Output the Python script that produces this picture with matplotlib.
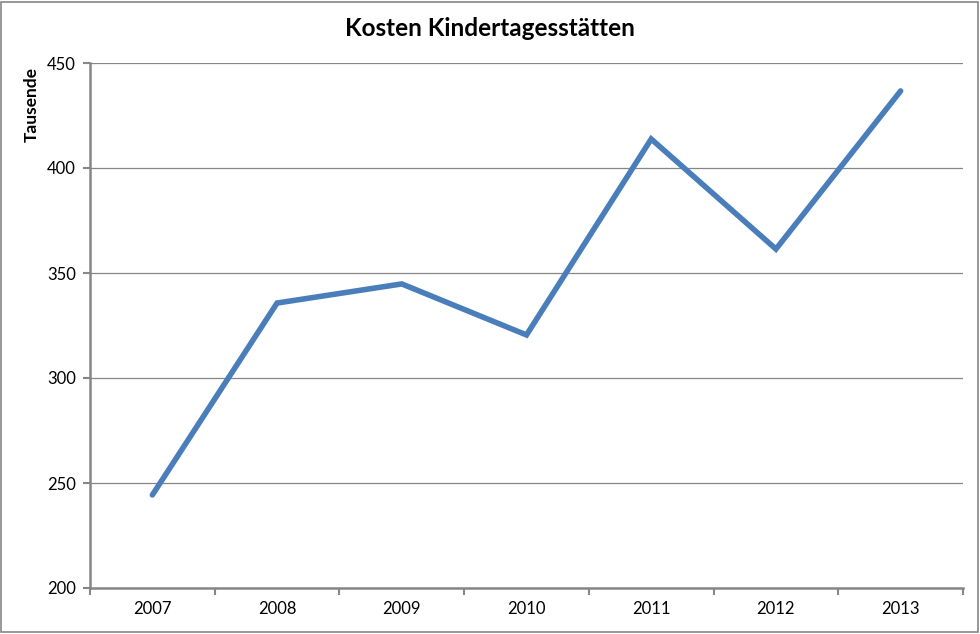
import matplotlib
matplotlib.use("Agg")
import matplotlib.pyplot as plt
from matplotlib.patches import Rectangle
import numpy as np

years = ["2007", "2008", "2009", "2010", "2011", "2012", "2013"]
values = [244.3, 335.7, 344.8, 320.5, 413.8, 361.4, 436.7]
yticks = [200, 250, 300, 350, 400, 450]

plt.rcParams['font.family'] = ['Lato', 'DejaVu Sans']

fig = plt.figure(figsize=(9.8, 6.34), dpi=100)
ax = fig.add_axes([90/980, 1-588/634, (963-90)/980, (588-63)/634])

x = np.arange(len(years))
ax.plot(x, values, color='#4A7EBB', lw=4.0, solid_capstyle='round', solid_joinstyle='miter', zorder=3)

ax.set_xlim(-0.5, len(years)-0.5)
ax.set_ylim(yticks[0], yticks[-1])
ax.set_yticks(yticks)
ax.set_yticklabels([str(v) for v in yticks], fontsize=12)
ax.yaxis.grid(True, color='#868686', lw=0.9)
ax.set_axisbelow(True)

ax.set_xticks(x)
ax.set_xticklabels(years, fontsize=12)
ax.tick_params(axis='x', which='major', length=0, pad=9)
ax.set_xticks(np.arange(-0.5, len(years)), minor=True)
ax.tick_params(axis='x', which='minor', length=5, width=1.5, color='#868686', direction='out')
ax.tick_params(axis='y', length=5, width=1.5, color='#868686', direction='out', pad=5)

for s in ['top', 'right']:
    ax.spines[s].set_visible(False)
for s in ['left', 'bottom']:
    ax.spines[s].set_color('#868686')
    ax.spines[s].set_linewidth(1.8)

ax.set_ylabel('Tausende', fontsize=12.5, fontweight='bold')
ax.yaxis.set_label_coords(-0.057, 0.92)

fig.text(490/980, 1-29/634, 'Kosten Kindertagesstätten', ha='center', va='center',
         fontsize=17.5, fontweight='bold')

fig.patches.append(Rectangle((1/980, 2/634), 977/980, 630/634, transform=fig.transFigure,
                             fill=False, edgecolor='#868686', lw=1.2))

fig.savefig('out.png', dpi=100)
